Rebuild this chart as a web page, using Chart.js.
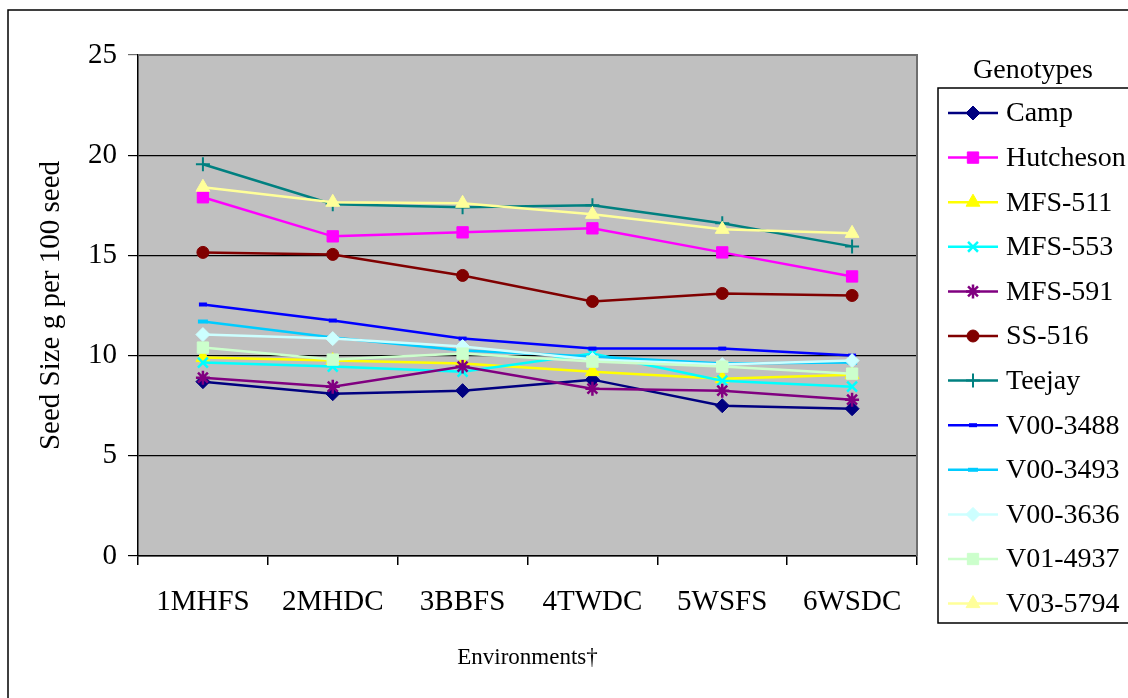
<!DOCTYPE html>
<html>
<head>
<meta charset="utf-8">
<script src="https://cdn.jsdelivr.net/npm/chart.js@4/dist/chart.umd.min.js"></script>
<style>
  html, body { margin: 0; padding: 0; background: #ffffff; }
  #wrap { position: relative; width: 1128px; height: 698px; }
  canvas { display: block; }
</style>
</head>
<body>
<div id="wrap"><canvas id="c" width="1128" height="698"></canvas></div>
<script>
// Environments (x categories)
const environments = ['1MHFS', '2MHDC', '3BBFS', '4TWDC', '5WSFS', '6WSDC'];

// Seed size (g per 100 seed) for each genotype across environments
const camp      = [8.7, 8.1, 8.25, 8.8, 7.5, 7.35];
const hutcheson = [17.9, 15.95, 16.15, 16.35, 15.15, 13.95];
const mfs511    = [9.9, 9.75, 9.6, 9.2, 8.85, 9.05];
const mfs553    = [9.65, 9.45, 9.2, 10.1, 8.75, 8.45];
const mfs591    = [8.9, 8.45, 9.45, 8.35, 8.25, 7.8];
const ss516     = [15.15, 15.05, 14.0, 12.7, 13.1, 13.0];
const teejay    = [19.55, 17.55, 17.4, 17.5, 16.6, 15.45];
const v003488   = [12.55, 11.75, 10.85, 10.35, 10.35, 10.0];
const v003493   = [11.7, 10.9, 10.25, 9.95, 9.6, 9.65];
const v003636   = [11.05, 10.85, 10.45, 9.8, 9.55, 9.75];
const v014937   = [10.4, 9.8, 10.1, 9.7, 9.45, 9.1];
const v035794   = [18.4, 17.65, 17.6, 17.05, 16.3, 16.1];

// Y axis ticks
const yTicks = [0, 5, 10, 15, 20, 25];

const SERIF = '"Liberation Serif", "Times New Roman", serif';

const seriesDefs = [
  { label: 'Camp',      data: camp,      color: '#000080', style: 'rectRot',  r: 7,   bw: 1 },
  { label: 'Hutcheson', data: hutcheson, color: '#FF00FF', style: 'rect',     r: 8,   bw: 1 },
  { label: 'MFS-511',   data: mfs511,    color: '#FFFF00', style: 'triangle', r: 8,   bw: 1 },
  { label: 'MFS-553',   data: mfs553,    color: '#00FFFF', style: 'crossRot', r: 7,   bw: 2.5 },
  { label: 'MFS-591',   data: mfs591,    color: '#800080', style: 'star',     r: 7,   bw: 2.5 },
  { label: 'SS-516',    data: ss516,     color: '#800000', style: 'circle',   r: 6,   bw: 1 },
  { label: 'Teejay',    data: teejay,    color: '#008080', style: 'cross',    r: 7,   bw: 2 },
  { label: 'V00-3488',  data: v003488,   color: '#0000FF', style: 'line',     r: 4,   bw: 4 },
  { label: 'V00-3493',  data: v003493,   color: '#00CCFF', style: 'line',     r: 5,   bw: 4 },
  { label: 'V00-3636',  data: v003636,   color: '#CCFFFF', style: 'rectRot',  r: 7,   bw: 1 },
  { label: 'V01-4937',  data: v014937,   color: '#CCFFCC', style: 'rect',     r: 8,   bw: 1 },
  { label: 'V03-5794',  data: v035794,   color: '#FFFF99', style: 'triangle', r: 8,   bw: 1 }
];

const datasets = seriesDefs.map((s, i) => ({
  label: s.label,
  data: s.data,
  borderColor: s.color,
  backgroundColor: s.color,
  borderWidth: 2.5,
  pointStyle: s.style,
  pointRadius: s.r,
  pointHoverRadius: s.r,
  pointBackgroundColor: s.color,
  pointBorderColor: s.color,
  pointBorderWidth: s.bw,
  tension: 0,
  fill: false,
  order: seriesDefs.length - i   // later series drawn on top
}));

// Grey plot background, plot frame and the outer figure border
const framePlugin = {
  id: 'frame',
  beforeDraw(chart) {
    const { ctx, chartArea: a } = chart;
    ctx.save();
    ctx.fillStyle = '#C0C0C0';
    ctx.fillRect(a.left, a.top, a.right - a.left, a.bottom - a.top);
    ctx.restore();
  },
  afterDatasetsDraw(chart) {
    const { ctx, chartArea: a } = chart;
    ctx.save();
    ctx.strokeStyle = '#6e6e6e';
    ctx.lineWidth = 2;
    ctx.beginPath();
    ctx.moveTo(a.left, a.top);
    ctx.lineTo(a.right, a.top);
    ctx.lineTo(a.right, a.bottom);
    ctx.stroke();
    ctx.restore();
  },
  afterDraw(chart) {
    const { ctx } = chart;
    ctx.save();
    ctx.strokeStyle = '#000000';
    ctx.lineWidth = 1.5;
    ctx.beginPath();
    ctx.moveTo(8, 700);
    ctx.lineTo(8, 10);
    ctx.lineTo(1130, 10);
    ctx.stroke();
    ctx.restore();
  }
};

// Boxed legend with a title, drawn from the chart's datasets
const boxLegendPlugin = {
  id: 'boxLegend',
  afterDraw(chart) {
    const { ctx } = chart;
    const boxLeft = 938, boxTop = 88, boxBottom = 623;
    const firstY = 113, step = 44.6;
    ctx.save();
    ctx.fillStyle = '#000';
    ctx.font = '28px ' + SERIF;
    ctx.textAlign = 'center';
    ctx.textBaseline = 'middle';
    ctx.fillText('Genotypes', 1033, 71);

    ctx.strokeStyle = '#000';
    ctx.lineWidth = 1.5;
    ctx.beginPath();
    ctx.moveTo(1130, boxTop);
    ctx.lineTo(boxLeft, boxTop);
    ctx.lineTo(boxLeft, boxBottom);
    ctx.lineTo(1130, boxBottom);
    ctx.stroke();

    chart.data.datasets.forEach((ds, i) => {
      const y = firstY + i * step;
      ctx.strokeStyle = ds.borderColor;
      ctx.lineWidth = 2.5;
      ctx.beginPath();
      ctx.moveTo(948, y);
      ctx.lineTo(998, y);
      ctx.stroke();
      ctx.fillStyle = ds.pointBackgroundColor;
      ctx.strokeStyle = ds.pointBorderColor;
      ctx.lineWidth = ds.pointBorderWidth;
      Chart.helpers.drawPoint(ctx, { pointStyle: ds.pointStyle, radius: ds.pointRadius, borderWidth: ds.pointBorderWidth, rotation: 0 }, 973, y);
      ctx.fillStyle = '#000';
      ctx.textAlign = 'left';
      ctx.textBaseline = 'middle';
      ctx.font = '28px ' + SERIF;
      ctx.fillText(ds.label, 1006, y + 1);
    });
    ctx.restore();
  }
};

new Chart(document.getElementById('c'), {
  type: 'line',
  data: { labels: environments, datasets },
  plugins: [framePlugin, boxLegendPlugin],
  options: {
    responsive: false,
    animation: false,
    devicePixelRatio: 1,
    layout: { padding: { left: 0, top: 55, right: 211, bottom: 0 } },
    plugins: {
      legend: { display: false },
      tooltip: { enabled: false },
      title: { display: false }
    },
    scales: {
      x: {
        type: 'category',
        offset: true,
        grid: {
          display: true,
          offset: true,
          drawOnChartArea: false,
          drawTicks: true,
          tickLength: 9,
          color: '#000',
          lineWidth: 1.5
        },
        border: { display: true, color: '#000', width: 1.5 },
        ticks: {
          color: '#000',
          font: { family: SERIF, size: 29 },
          padding: 20,
          maxRotation: 0,
          autoSkip: false
        },
        title: {
          display: true,
          text: 'Environments†',
          color: '#000',
          font: { family: SERIF, size: 23 },
          padding: { top: 0, bottom: 26 }
        },
        afterFit(scale) { scale.height = 142; }
      },
      y: {
        min: yTicks[0],
        max: yTicks[yTicks.length - 1],
        afterBuildTicks(scale) { scale.ticks = yTicks.map(v => ({ value: v })); },
        grid: {
          color: ctx => (ctx.tick && ctx.tick.value === 25 ? '#6e6e6e' : '#000'),
          lineWidth: 1.2,
          tickLength: 10,
          drawTicks: true
        },
        border: { display: true, color: '#000', width: 1.5 },
        ticks: {
          color: '#000',
          font: { family: SERIF, size: 29 },
          padding: 11
        },
        title: {
          display: true,
          text: 'Seed Size g per 100 seed',
          color: '#000',
          font: { family: SERIF, size: 29 },
          padding: { top: 34, bottom: 0 }
        },
        afterFit(scale) { scale.width = 138; }
      }
    }
  }
});
</script>
</body>
</html>
